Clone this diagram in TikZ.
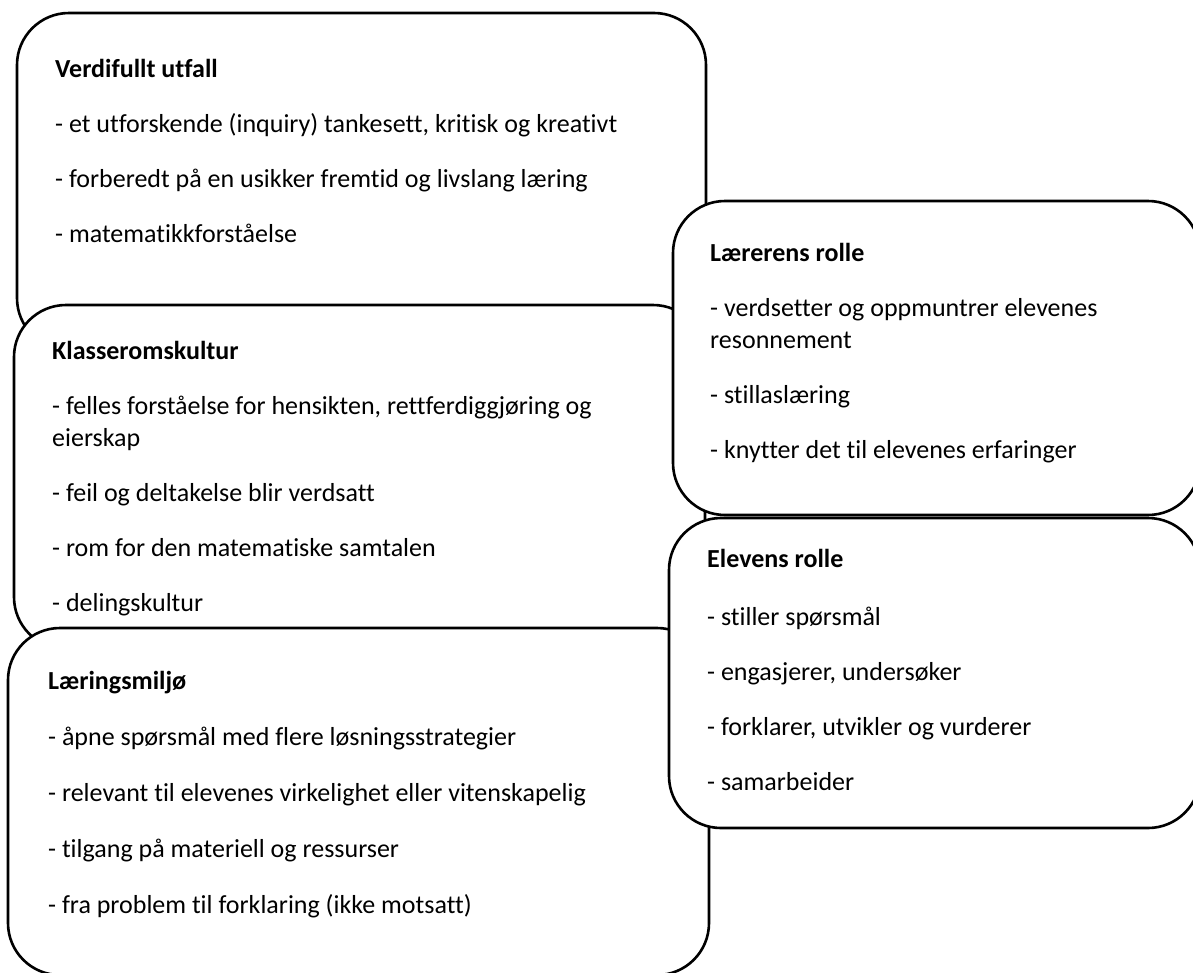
\documentclass[tikz,border=0pt]{standalone}
\usepackage{fontspec}
\setmainfont{Carlito}[Ligatures=NoCommon]
\tikzset{
  box/.style={draw=black, fill=white, line width=2.6pt, rounded corners=52pt, inner sep=0pt, outer sep=0pt},
  txt/.style={anchor=base west, inner sep=0pt, font=\fontsize{26}{32}\selectfont},
  ttl/.style={txt, font=\fontsize{26}{32}\selectfont\bfseries}
}
\begin{document}
\begin{tikzpicture}[x=1pt,y=-1pt]
\useasboundingbox (0,0) rectangle (1193,972);
% Verdifullt utfall
\node[box, minimum width=689pt, minimum height=337pt] (vbox) at (361.5,181.5) {};
\node[ttl] (v0) at (55,77) {Verdifullt utfall};
\node[txt] (v1) at (55,132) {- et utforskende (inquiry) tankesett, kritisk og kreativt};
\node[txt] (v2) at (55,187) {- forberedt på en usikker fremtid og livslang læring};
\node[txt] (v3) at (55,242) {- matematikkforståelse};
% Klasseromskultur
\node[box, minimum width=691pt, minimum height=344pt] (kbox) at (359.5,477) {};
\node[ttl] (k0) at (52,359) {Klasseromskultur};
\node[txt] (k1) at (52,414) {- felles forståelse for hensikten, rettferdiggjøring og};
\node[txt] (k2) at (52,446) {eierskap};
\node[txt] (k3) at (52,501) {- feil og deltakelse blir verdsatt};
\node[txt] (k4) at (52,556) {- rom for den matematiske samtalen};
\node[txt] (k5) at (52,611) {- delingskultur};
% Læringsmiljø
\node[box, minimum width=701pt, minimum height=347pt] (lbox) at (358.5,801.5) {};
\node[ttl] (l0) at (48,689) {Læringsmiljø};
\node[txt] (l1) at (48,745) {- åpne spørsmål med flere løsningsstrategier};
\node[txt] (l2) at (48,801) {- relevant til elevenes virkelighet eller vitenskapelig};
\node[txt] (l3) at (48,857) {- tilgang på materiell og ressurser};
\node[txt] (l4) at (48,913) {- fra problem til forklaring (ikke motsatt)};
% Lærerens rolle
\node[box, minimum width=527pt, minimum height=314pt] (rbox) at (936.5,358) {};
\node[ttl] (r0) at (710,261) {Lærerens rolle};
\node[txt] (r1) at (710,316) {- verdsetter og oppmuntrer elevenes};
\node[txt] (r2) at (710,348) {resonnement};
\node[txt] (r3) at (710,403) {- stillaslæring};
\node[txt] (r4) at (710,458) {- knytter det til elevenes erfaringer};
% Elevens rolle
\node[box, minimum width=531pt, minimum height=310pt] (ebox) at (934.5,673) {};
\node[ttl] (e0) at (707,567) {Elevens rolle};
\node[txt] (e1) at (707,625) {- stiller spørsmål};
\node[txt] (e2) at (707,680) {- engasjerer, undersøker};
\node[txt] (e3) at (707,735) {- forklarer, utvikler og vurderer};
\node[txt] (e4) at (707,790) {- samarbeider};
\end{tikzpicture}
\end{document}
